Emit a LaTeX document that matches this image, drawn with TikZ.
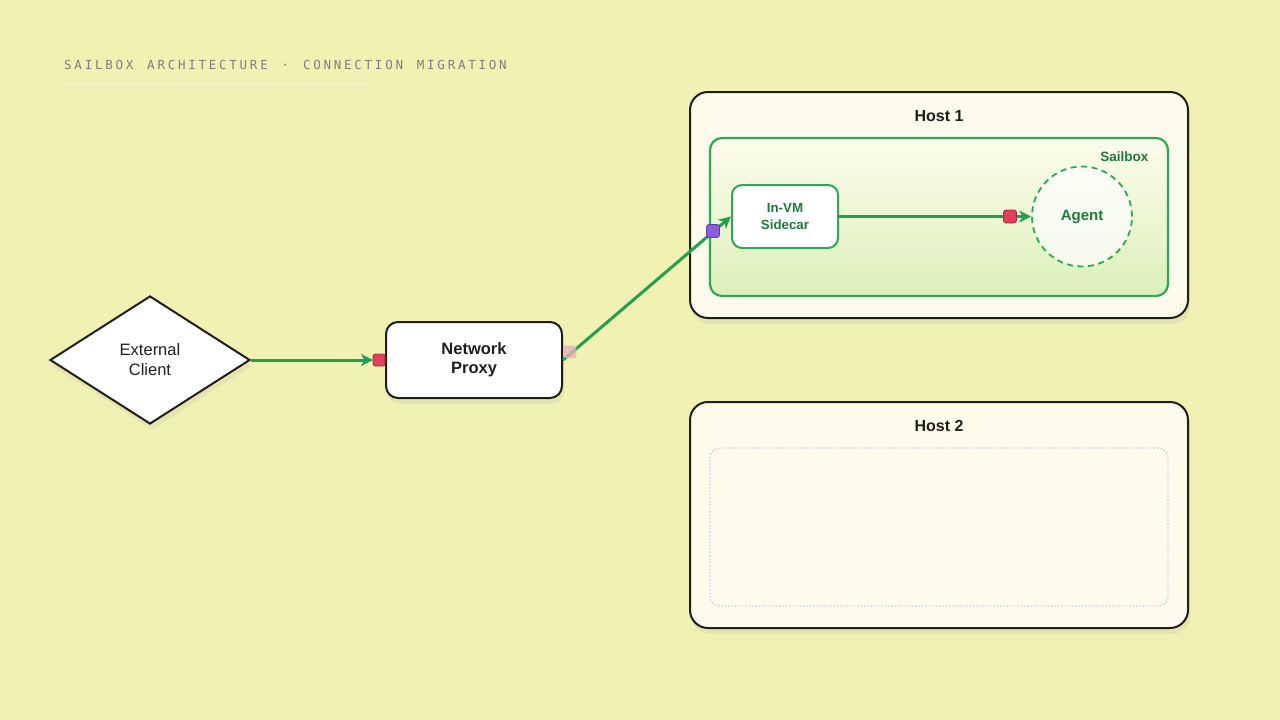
\documentclass[tikz,border=0pt]{standalone}
\usepackage{fontspec}
\setmainfont{Liberation Sans}
\newfontfamily\titlemono[LetterSpace=22,WordSpace=1.35]{DejaVu Sans Mono}
\usetikzlibrary{shapes.geometric,arrows.meta,shadows}
\definecolor{bg}{HTML}{F2F1B4}
\definecolor{hostfill}{HTML}{FDFCEC}
\definecolor{ink}{HTML}{1F1F1A}
\definecolor{gline}{HTML}{22A04E}
\definecolor{gbox}{HTML}{2EA856}
\definecolor{gtext}{HTML}{1E7A3C}
\definecolor{sailbot}{HTML}{DBF0BA}
\definecolor{redsq}{HTML}{E0405A}
\definecolor{redsqd}{HTML}{A82840}
\definecolor{pinksq}{HTML}{E2B4BC}
\definecolor{purpsq}{HTML}{8D5BE0}
\definecolor{purpsqd}{HTML}{6238B0}
\definecolor{titlegray}{HTML}{80807A}
\definecolor{dotbox}{HTML}{CFCADB}
\tikzset{
  softshadow/.style={drop shadow={opacity=0.11, shadow xshift=2pt, shadow yshift=-6pt}},
  hostbox/.style={draw=ink, line width=2pt, fill=hostfill, rounded corners=18pt, softshadow},
  darkbox/.style={draw=ink, line width=2pt, fill=white, rounded corners=12pt, align=center,
    font=\fontsize{16.5}{19}\selectfont\bfseries, text=ink, softshadow},
  greenbox/.style={draw=gbox, line width=2pt, fill=white, rounded corners=10pt, align=center,
    font=\fontsize{13.3}{17}\selectfont\bfseries, text=gtext},
  conn/.style={draw=gline, line width=3pt, -{Stealth[length=12pt,width=12pt,inset=3.5pt]}},
  port/.style={rectangle, rounded corners=2.5pt, minimum size=12pt, inner sep=0pt, line width=0.8pt},
  hosttitle/.style={font=\fontsize{16}{19}\selectfont\bfseries, text=ink},
}
\begin{document}
\begin{tikzpicture}[x=1pt,y=-1pt]
\useasboundingbox (0,0) rectangle (1280,720);
\fill[bg] (0,0) rectangle (1280,720);

% title
\node[anchor=west, inner sep=0pt, text=titlegray, font=\titlemono\fontsize{12.5}{14}\selectfont] (title) at (64,65) {SAILBOX ARCHITECTURE · CONNECTION MIGRATION};
\draw[white, opacity=0.45, line width=1pt] (64,84) coordinate (ul1) -- (370,84) coordinate (ul2);

% hosts
\node[hostbox, minimum width=498pt, minimum height=226pt] (host1) at (939,205) {};
\node[hosttitle] (host1t) at (939,116) {Host 1};
\node[hostbox, minimum width=498pt, minimum height=226pt] (host2) at (939,515) {};
\node[hosttitle] (host2t) at (939,426) {Host 2};
\node[draw=dotbox, dotted, line width=1.4pt, rounded corners=10pt, minimum width=458pt, minimum height=158pt] (slot2) at (939,527) {};

% sailbox
\node[draw=gbox, line width=2.2pt, rounded corners=12pt, top color=hostfill, bottom color=sailbot, minimum width=458pt, minimum height=158pt] (sailbox) at (939,217) {};
\node[anchor=east, text=gtext, font=\fontsize{13.5}{16}\selectfont\bfseries] (sailt) at (1152,157) {Sailbox};

% inner nodes
\node[greenbox, minimum width=106pt, minimum height=63pt] (sidecar) at (785,216.5) {In-VM\\Sidecar};
\node[circle, draw=gbox, dash pattern=on 6pt off 4.5pt, line width=1.8pt, fill=white, fill opacity=0.7, text opacity=1, minimum size=100pt, text=gtext, font=\fontsize{15}{18}\selectfont\bfseries] (agent) at (1082,216.5) {Agent};

% left nodes
\node[diamond, aspect=1.5625, draw=ink, line width=2pt, fill=white, minimum width=200pt, minimum height=128pt, inner sep=0pt, align=center, font=\fontsize{16.5}{20}\selectfont, text=ink, softshadow] (client) at (150,360) {External\\Client};
\node[darkbox, minimum width=176pt, minimum height=76pt] (proxy) at (474,360) {Network\\Proxy};

% connectors
\draw[conn, shorten >=12pt] (client.east) -- (proxy.west);
\draw[conn] (proxy.east) -- (sidecar.west);
\draw[conn] (sidecar.east) -- (agent.west);

% ports
\node[port, fill=redsq, draw=redsqd] (p1) at (379,360) {};
\node[port, fill=pinksq, draw=pinksq, opacity=0.8] (p2) at (570,352) {};
\node[port, fill=purpsq, draw=purpsqd, minimum size=13pt] (p3) at (713,231) {};
\node[port, fill=redsq, draw=redsqd, minimum size=13pt] (p4) at (1010,216.5) {};
\end{tikzpicture}
\end{document}
